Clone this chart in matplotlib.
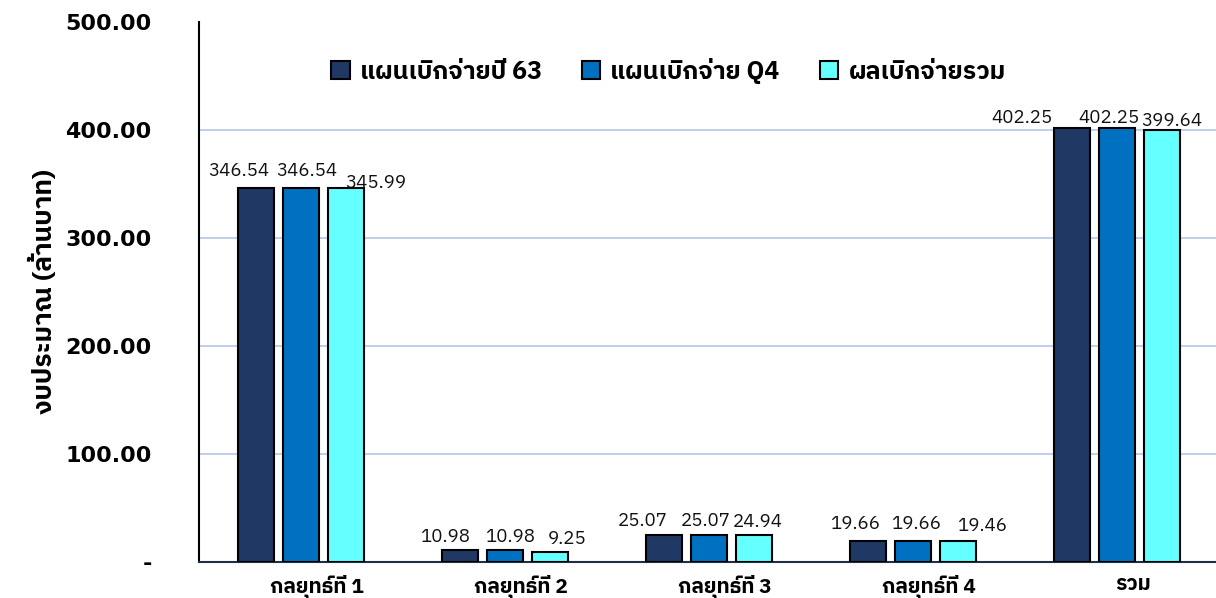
import matplotlib
matplotlib.use("Agg")
import matplotlib.pyplot as plt
from matplotlib import font_manager
import matplotlib.transforms as mtransforms
import numpy as np

# ---- data ----
categories = ["กลยุทธ์ที่ 1", "กลยุทธ์ที่ 2", "กลยุทธ์ที่ 3", "กลยุทธ์ที่ 4", "รวม"]
series_names = ["แผนเบิกจ่ายปี 63", "แผนเบิกจ่าย Q4", "ผลเบิกจ่ายรวม"]
plan_63 = [346.54, 10.98, 25.07, 19.66, 402.25]
plan_q4 = [346.54, 10.98, 25.07, 19.66, 402.25]
actual = [345.99, 9.25, 24.94, 19.46, 399.64]
yticks = [0, 100, 200, 300, 400, 500]
ytick_labels = ["-", "100.00", "200.00", "300.00", "400.00", "500.00"]
y_label = "งบประมาณ (ล้านบาท)"

# ---- fonts ----
names = sorted({f.name for f in font_manager.fontManager.ttflist})
thai = [n for n in names if any(k in n for k in ("Thai", "Loma", "Garuda", "Sarabun", "Tlwg", "Kinnari", "Norasi", "Waree", "Umpush", "Tahoma"))]
families = thai + ["DejaVu Sans"]
plt.rcParams["font.family"] = families

colors = ["#1F3864", "#0070C0", "#66FFFF"]

fig = plt.figure(figsize=(12.16, 5.98), dpi=100)
ax = fig.add_axes([199 / 1216, 36 / 598, 1020 / 1216, 540 / 598])

x = np.arange(len(categories))
bw = 36 / 204
step = 45 / 204
series = [plan_63, plan_q4, actual]
# label offsets (pixels) to mimic reference placement
dxs = [[-17, -15, -21, -13, -50], [6, 5, -3, 3, -8], [30, 17, 4, 24, 10]]
dys = [[8, 4, 5, 8, 1], [8, 4, 5, 8, 1], [-4, 4, 4, 6, 0]]
for i, (vals, c) in enumerate(zip(series, colors)):
    pos = x + (i - 1) * step
    ax.bar(pos, vals, width=bw, color=c, edgecolor="black", linewidth=1.5,
           label=series_names[i], zorder=3)
    for j, (p, v) in enumerate(zip(pos, vals)):
        ax.annotate(f"{v:.2f}", (p, v), xytext=(dxs[i][j], dys[i][j]),
                    textcoords="offset pixels", ha="center", va="bottom",
                    fontsize=13.5, color="#111111", zorder=4)

ax.set_xlim(-0.5, len(categories) - 0.5)
ax.set_ylim(0, 500)
ax.set_yticks(yticks)
ax.set_yticklabels(ytick_labels, fontsize=16, fontweight="bold", family="DejaVu Sans")
ax.set_xticks(x)
ax.set_xticklabels(categories, fontsize=15, fontweight="bold")
ax.tick_params(axis="both", length=0)
ax.tick_params(axis="y", pad=34)
ax.tick_params(axis="x", pad=9)
for lab in ax.get_xticklabels():
    lab.set_transform(lab.get_transform() + mtransforms.ScaledTranslation(16 / 100, 0, fig.dpi_scale_trans))
ax.grid(axis="y", color="#B4C7E7", linewidth=1.2, zorder=0)
ax.yaxis.get_gridlines()[-1].set_visible(False)
ax.spines["top"].set_visible(False)
ax.spines["right"].set_visible(False)
ax.spines["left"].set_color("black")
ax.spines["left"].set_linewidth(1.5)
ax.spines["bottom"].set_color("#1F2F44")
ax.spines["bottom"].set_linewidth(1.5)
ax.set_ylabel(y_label, fontsize=19, fontweight="bold", labelpad=6)

leg = ax.legend(loc="upper center", bbox_to_anchor=(0.46, 0.975), ncol=3, frameon=False,
                fontsize=18, handlelength=0.75, handleheight=0.75, handletextpad=0.4,
                columnspacing=1.6)
for t in leg.get_texts():
    t.set_fontweight("bold")

fig.savefig("out.png", dpi=100)
